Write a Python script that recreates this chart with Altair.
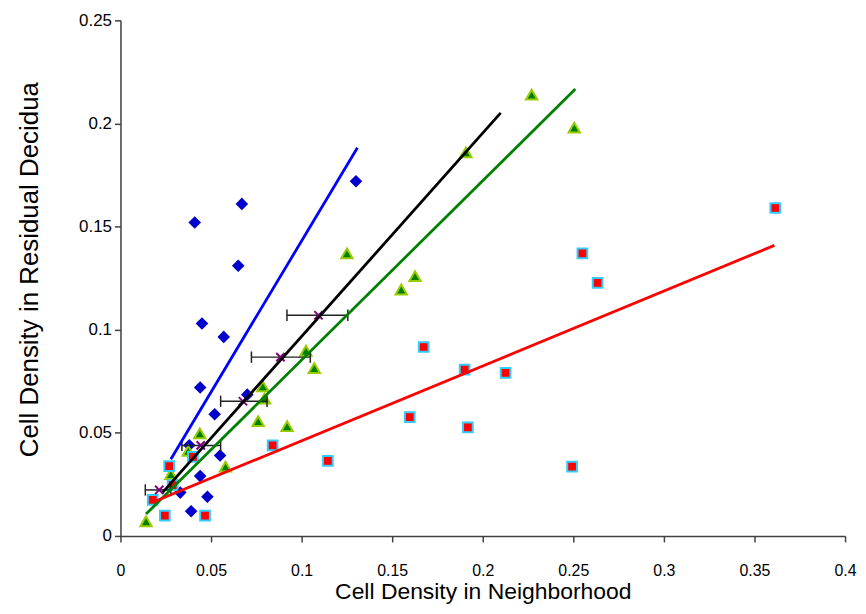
import altair as alt
import pandas as pd

# Blue diamonds
blue_x = [0.130, 0.067, 0.041, 0.065, 0.045, 0.057, 0.044, 0.070, 0.052, 0.038, 0.055, 0.044, 0.033, 0.048, 0.039]
blue_y = [0.172, 0.161, 0.152, 0.131, 0.103, 0.0965, 0.072, 0.0685, 0.059, 0.044, 0.039, 0.029, 0.021, 0.019, 0.012]

# Green triangles
green_x = [0.227, 0.2505, 0.1907, 0.125, 0.1626, 0.155, 0.1024, 0.107, 0.0786, 0.0795, 0.076, 0.092, 0.0438, 0.0374, 0.058, 0.0278, 0.0141]
green_y = [0.214, 0.198, 0.186, 0.137, 0.126, 0.1195, 0.0898, 0.0814, 0.0725, 0.0666, 0.0557, 0.0532, 0.0497, 0.0412, 0.0336, 0.030, 0.0071]

# Red squares
red_x = [0.3615, 0.255, 0.2634, 0.1674, 0.190, 0.2126, 0.1597, 0.1918, 0.2493, 0.1145, 0.084, 0.040, 0.0269, 0.0288, 0.0178, 0.0245, 0.0467]
red_y = [0.159, 0.137, 0.1227, 0.0916, 0.0806, 0.0791, 0.0576, 0.0526, 0.0336, 0.0364, 0.0439, 0.0383, 0.0338, 0.0246, 0.0175, 0.0098, 0.0098]

# Purple means with horizontal error bars
mean_x = [0.1093, 0.0883, 0.0676, 0.0443, 0.0214]
mean_y = [0.107, 0.0867, 0.0653, 0.0439, 0.0223]
err_lo = [0.0919, 0.0723, 0.0553, 0.0339, 0.0137]
err_hi = [0.1255, 0.1048, 0.0809, 0.0553, 0.0278]

# Trend lines (start, end)
line_names = ["blue", "black", "green", "red"]
line_x0 = [0.0278, 0.0233, 0.0141, 0.0178]
line_y0 = [0.0372, 0.0211, 0.0106, 0.0163]
line_x1 = [0.1308, 0.2099, 0.2511, 0.3610]
line_y1 = [0.1882, 0.2051, 0.2167, 0.1409]
line_colors = ["#0000FF", "#000000", "#008000", "#FF0000"]

xs = alt.Scale(domain=[0, 0.4], nice=False)
ys = alt.Scale(domain=[0, 0.25], nice=False)

xaxis = alt.Axis(values=[0, 0.05, 0.1, 0.15, 0.2, 0.25, 0.3, 0.35, 0.4], format=".2~f",
                 title="Cell Density in Neighborhood", labelPadding=21, labelFlush=False,
                 labelFontSize=16, titlePadding=2, titleFontSize=23, grid=False)
yaxis = alt.Axis(values=[0, 0.05, 0.1, 0.15, 0.2, 0.25], format=".2~f", labelFlush=False,
                 title="Cell Density in Residual Decidua", labelPadding=3, titlePadding=36,
                 titleFontSize=26, titleY=250, grid=False)

X = lambda f: alt.X(f, type="quantitative", scale=xs, axis=xaxis)
Y = lambda f: alt.Y(f, type="quantitative", scale=ys, axis=yaxis)

blue_df = pd.DataFrame({"x": blue_x, "y": blue_y})
green_df = pd.DataFrame({"x": green_x, "y": green_y})
red_df = pd.DataFrame({"x": red_x, "y": red_y})
mean_df = pd.DataFrame({"x": mean_x, "y": mean_y, "lo": err_lo, "hi": err_hi})

rows = []
for n, a, b, c, d in zip(line_names, line_x0, line_y0, line_x1, line_y1):
    rows.append({"s": n, "x": a, "y": b, "o": 0})
    rows.append({"s": n, "x": c, "y": d, "o": 1})
line_df = pd.DataFrame(rows)

blue = alt.Chart(blue_df).mark_point(shape="diamond", filled=True, color="#0000CC", size=160, opacity=1).encode(x=X("x"), y=Y("y"))
green = alt.Chart(green_df).mark_point(shape="triangle-up", filled=True, fill="#008000", stroke="#99CC00",
                                       strokeWidth=2, size=130, opacity=1).encode(x=X("x"), y=Y("y"))
red = alt.Chart(red_df).mark_point(shape="square", filled=True, fill="#FF0000", stroke="#33CCFF",
                                   strokeWidth=2, size=95, opacity=1).encode(x=X("x"), y=Y("y"))

err = alt.Chart(mean_df).mark_rule(color="#222222", strokeWidth=1.5).encode(x=X("lo"), x2="hi", y=Y("y"))
cap_lo = alt.Chart(mean_df).mark_point(shape="M0,-1L0,1", filled=False, color="#222222", strokeWidth=1.5,
                                       size=130, opacity=1).encode(x=X("lo"), y=Y("y"))
cap_hi = alt.Chart(mean_df).mark_point(shape="M0,-1L0,1", filled=False, color="#222222", strokeWidth=1.5,
                                       size=130, opacity=1).encode(x=X("hi"), y=Y("y"))
means = alt.Chart(mean_df).mark_point(shape="M-1,-1L1,1M-1,1L1,-1", filled=False, color="#800080",
                                      strokeWidth=2, size=70, opacity=1).encode(x=X("x"), y=Y("y"))

lines = alt.Chart(line_df).mark_line(strokeWidth=2.8).encode(
    x=X("x"), y=Y("y"), order="o:Q",
    color=alt.Color("s:N", scale=alt.Scale(domain=line_names, range=line_colors), legend=None),
)

chart = alt.layer(blue, green, red, err, cap_lo, cap_hi, means, lines).properties(
    width=728, height=518,
    autosize=alt.AutoSizeParams(type="none"),
    padding={"left": 113, "top": 11, "right": 13, "bottom": 69},
).configure_view(stroke=None).configure_axis(
    labelFont="Liberation Sans", titleFont="Liberation Sans",
    labelFontSize=17, titleFontSize=25, titleFontWeight="normal",
    labelColor="#000000", titleColor="#000000",
    domainColor="#404040", domainWidth=1.5, tickColor="#404040", tickWidth=1.5, tickSize=6,
)

chart.save("out.html", embed_options={"renderer": "svg", "actions": False})
